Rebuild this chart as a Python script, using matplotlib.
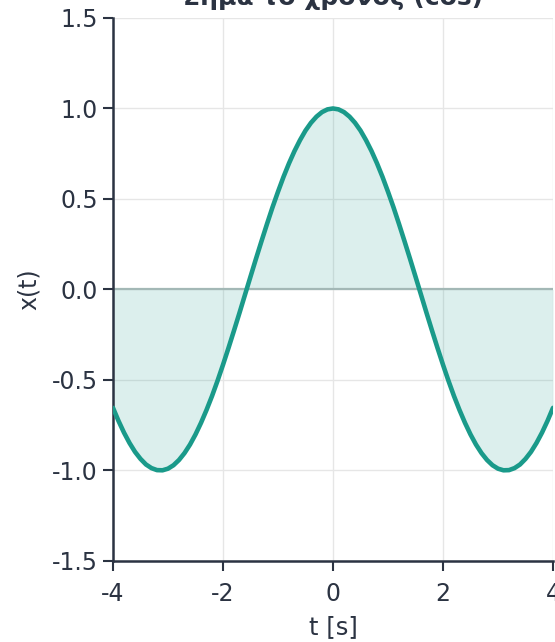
import numpy as np
import matplotlib
matplotlib.use('Agg')
import matplotlib.pyplot as plt

plt.rcParams['axes.unicode_minus'] = False

# sampled signal x(t), read every 0.1 s
t_vals = [-4.0, -3.9, -3.8, -3.7, -3.6, -3.5, -3.4, -3.3, -3.2, -3.1, -3.0,
          -2.9, -2.8, -2.7, -2.6, -2.5, -2.4, -2.3, -2.2, -2.1, -2.0,
          -1.9, -1.8, -1.7, -1.6, -1.5, -1.4, -1.3, -1.2, -1.1, -1.0,
          -0.9, -0.8, -0.7, -0.6, -0.5, -0.4, -0.3, -0.2, -0.1, 0.0,
          0.1, 0.2, 0.3, 0.4, 0.5, 0.6, 0.7, 0.8, 0.9, 1.0,
          1.1, 1.2, 1.3, 1.4, 1.5, 1.6, 1.7, 1.8, 1.9, 2.0,
          2.1, 2.2, 2.3, 2.4, 2.5, 2.6, 2.7, 2.8, 2.9, 3.0,
          3.1, 3.2, 3.3, 3.4, 3.5, 3.6, 3.7, 3.8, 3.9, 4.0]
x_vals = [-0.654, -0.726, -0.791, -0.848, -0.897, -0.936, -0.967, -0.987, -0.998, -0.999, -0.990,
          -0.971, -0.942, -0.904, -0.857, -0.801, -0.737, -0.666, -0.589, -0.505, -0.416,
          -0.323, -0.227, -0.129, -0.029, 0.071, 0.170, 0.267, 0.362, 0.454, 0.540,
          0.622, 0.697, 0.765, 0.825, 0.878, 0.921, 0.955, 0.980, 0.995, 1.000,
          0.995, 0.980, 0.955, 0.921, 0.878, 0.825, 0.765, 0.697, 0.622, 0.540,
          0.454, 0.362, 0.267, 0.170, 0.071, -0.029, -0.129, -0.227, -0.323, -0.416,
          -0.505, -0.589, -0.666, -0.737, -0.801, -0.857, -0.904, -0.942, -0.971, -0.990,
          -0.999, -0.998, -0.987, -0.967, -0.936, -0.897, -0.848, -0.791, -0.726, -0.654]

x_ticks = [-4, -2, 0, 2, 4]
y_ticks = [-1.5, -1.0, -0.5, 0.0, 0.5, 1.0, 1.5]

teal = '#1a9a8a'
ink = '#2b3342'

fig = plt.figure(figsize=(5.55, 6.42), dpi=100)
ax = fig.add_axes([0.2036, 0.1262, 0.7928, 0.8458])

t = np.array(t_vals)
x = np.array(x_vals)
ax.fill_between(t, x, 0, color=teal, alpha=0.15, linewidth=0)
ax.axhline(0, color='#a3b8b6', linewidth=1.6, zorder=2)
ax.plot(t, x, color=teal, linewidth=3.3, solid_capstyle='round', zorder=3)

ax.set_xlim(-4, 4)
ax.set_ylim(-1.5, 1.5)
ax.set_xticks(x_ticks)
ax.set_xticklabels([str(v) for v in x_ticks])
ax.set_yticks(y_ticks)
ax.set_yticklabels(['%.1f' % v for v in y_ticks])
ax.grid(True, color='#e6e6e6', linewidth=1.0)
ax.set_axisbelow(True)

for side in ['top', 'right']:
    ax.spines[side].set_visible(False)
for side in ['left', 'bottom']:
    ax.spines[side].set_color(ink)
    ax.spines[side].set_linewidth(1.8)
ax.tick_params(direction='out', length=7, width=1.5, color=ink,
               labelcolor=ink, labelsize=17)
ax.tick_params(axis='y', pad=4)
ax.tick_params(axis='x', pad=8)

ax.set_xlabel('t [s]', fontsize=17.5, color=ink, labelpad=7)
ax.set_ylabel('x(t)', fontsize=17, color=ink, labelpad=8)
ax.set_title('Σήμα το χρόνος (cos)', fontsize=18, fontweight='bold',
             color=ink, pad=9.5)

fig.savefig('out.png', dpi=100)
